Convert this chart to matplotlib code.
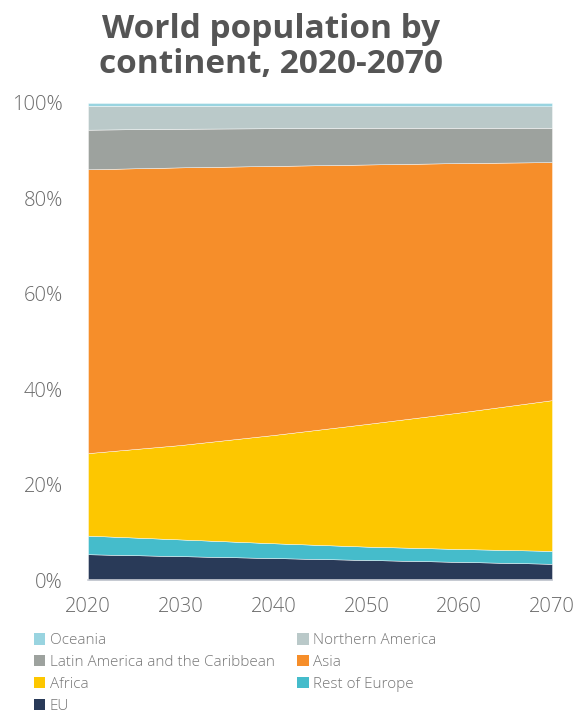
import matplotlib.pyplot as plt
from matplotlib.patches import Patch

plt.rcParams['font.family'] = ['Open Sans', 'DejaVu Sans']

# data: share of world population (%)
years = [2020, 2030, 2040, 2050, 2060, 2070]
eu = [5.4, 5.0, 4.6, 4.2, 3.8, 3.4]
rest_europe = [3.9, 3.5, 3.1, 2.8, 2.7, 2.7]
africa = [17.3, 19.8, 22.7, 25.7, 28.6, 31.6]
asia = [59.5, 58.2, 56.4, 54.4, 52.3, 49.9]
latin_america = [8.3, 8.1, 7.9, 7.7, 7.4, 7.2]
northern_america = [5.0, 4.8, 4.7, 4.6, 4.5, 4.5]
oceania = [0.6, 0.6, 0.6, 0.6, 0.7, 0.7]

labels = ['EU', 'Rest of Europe', 'Africa', 'Asia',
          'Latin America and the Caribbean', 'Northern America', 'Oceania']
colors = ['#293a58', '#45bccb', '#fdc700', '#f68e2a',
          '#9da29e', '#bac9c9', '#99d4e0']

fig = plt.figure(figsize=(5.77, 7.15), dpi=100)
ax = fig.add_axes([0.1525, 0.1888, 0.8042, 0.6672])

ax.stackplot(years, eu, rest_europe, africa, asia, latin_america,
             northern_america, oceania, colors=colors, labels=labels,
             edgecolor='white', linewidth=0.3)

ax.set_xlim(2020, 2070)
ax.set_ylim(0, 100)
ax.set_xticks(years)
ax.set_yticks(range(0, 101, 20))
ax.set_yticklabels([f'{v}%' for v in range(0, 101, 20)])
ax.tick_params(length=0, labelsize=14.5, labelcolor='#6a6a6a', pad=18)
ax.tick_params(axis='x', pad=12)
for t in ax.get_xticklabels() + ax.get_yticklabels():
    t.set_fontweight('light')
for s in ['top', 'right', 'left']:
    ax.spines[s].set_visible(False)
ax.spines['bottom'].set_color('#c8ccd4')
ax.spines['bottom'].set_linewidth(1.2)

fig.text(0.47, 0.982, 'World population by\ncontinent, 2020-2070',
         ha='center', va='top', fontsize=24, fontweight='bold',
         color='#555555', linespacing=1.1)

# legend, two columns placed separately
cmap = dict(zip(labels, colors))
col1 = ['Oceania', 'Latin America and the Caribbean', 'Africa', 'EU']
col2 = ['Northern America', 'Asia', 'Rest of Europe']
for names, x0 in [(col1, 0.045), (col2, 0.502)]:
    handles = [Patch(facecolor=cmap[n], label=n) for n in names]
    fig.legend(handles=handles, loc='upper left',
               bbox_to_anchor=(x0, 0.125), frameon=False,
               handlelength=0.75, handleheight=0.75,
               handletextpad=0.3, labelspacing=0.45,
               labelcolor='#777777', borderpad=0,
               prop={'weight': 'light', 'size': 11})

fig.savefig('out.png', dpi=100)
